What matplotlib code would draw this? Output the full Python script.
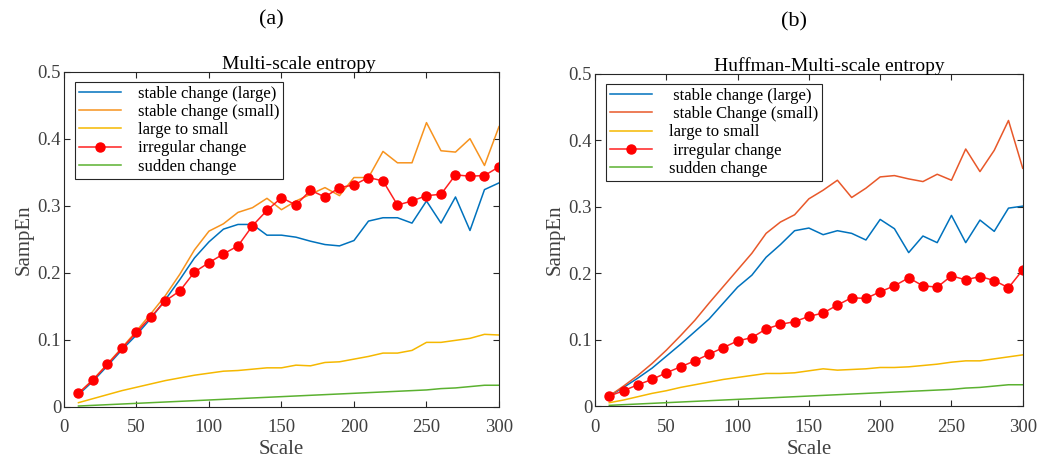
"""
Sample entropy against scale for five change patterns,
plain multi-scale entropy vs. Huffman-multi-scale entropy.
"""

import numpy as np
import matplotlib
matplotlib.use('Agg')
import matplotlib.pyplot as plt

plt.rcParams['font.family'] = ['Liberation Serif', 'DejaVu Serif']
plt.rcParams['mathtext.fontset'] = 'stix'

scale = list(range(10, 301, 10))

# (a) multi-scale entropy
mse_stable_large = [0.018, 0.038, 0.061, 0.085, 0.107, 0.132, 0.160, 0.190, 0.222, 0.246,
                    0.265, 0.272, 0.272, 0.256, 0.256, 0.253, 0.247, 0.242, 0.240, 0.248,
                    0.277, 0.282, 0.282, 0.274, 0.307, 0.274, 0.313, 0.263, 0.324, 0.334]
mse_stable_small = [0.020, 0.040, 0.064, 0.088, 0.113, 0.139, 0.166, 0.198, 0.234, 0.262,
                    0.273, 0.290, 0.297, 0.311, 0.294, 0.307, 0.317, 0.327, 0.315, 0.342,
                    0.342, 0.381, 0.364, 0.364, 0.424, 0.382, 0.380, 0.400, 0.360, 0.418]
mse_large_small = [0.006, 0.012, 0.018, 0.024, 0.029, 0.034, 0.039, 0.043, 0.047, 0.050,
                   0.053, 0.054, 0.056, 0.058, 0.058, 0.062, 0.061, 0.066, 0.067, 0.071,
                   0.075, 0.080, 0.080, 0.084, 0.096, 0.096, 0.099, 0.102, 0.108, 0.107]
mse_irregular = [0.020, 0.040, 0.063, 0.087, 0.111, 0.134, 0.158, 0.173, 0.201, 0.215,
                 0.228, 0.240, 0.270, 0.293, 0.312, 0.301, 0.323, 0.313, 0.327, 0.331,
                 0.342, 0.337, 0.301, 0.307, 0.315, 0.317, 0.346, 0.344, 0.345, 0.358]
mse_sudden = [0.001, 0.002, 0.003, 0.004, 0.005, 0.006, 0.007, 0.008, 0.009, 0.010,
              0.011, 0.012, 0.013, 0.014, 0.015, 0.016, 0.017, 0.018, 0.019, 0.020,
              0.021, 0.022, 0.023, 0.024, 0.025, 0.027, 0.028, 0.030, 0.032, 0.032]

# (b) Huffman-multi-scale entropy
hmse_stable_large = [0.015, 0.028, 0.042, 0.057, 0.075, 0.093, 0.112, 0.131, 0.155, 0.179,
                     0.197, 0.224, 0.243, 0.264, 0.268, 0.258, 0.264, 0.260, 0.250, 0.281,
                     0.267, 0.231, 0.256, 0.246, 0.287, 0.246, 0.280, 0.263, 0.298, 0.301]
hmse_stable_small = [0.015, 0.030, 0.046, 0.064, 0.084, 0.106, 0.129, 0.155, 0.180, 0.205,
                     0.230, 0.260, 0.277, 0.288, 0.312, 0.325, 0.340, 0.314, 0.328, 0.345,
                     0.347, 0.342, 0.338, 0.349, 0.340, 0.387, 0.353, 0.385, 0.430, 0.358]
hmse_large_small = [0.005, 0.009, 0.014, 0.019, 0.023, 0.028, 0.032, 0.036, 0.040, 0.043,
                    0.046, 0.049, 0.049, 0.050, 0.053, 0.056, 0.054, 0.055, 0.056, 0.058,
                    0.058, 0.059, 0.061, 0.063, 0.066, 0.068, 0.068, 0.071, 0.074, 0.077]
hmse_irregular = [0.015, 0.023, 0.032, 0.040, 0.050, 0.059, 0.068, 0.078, 0.088, 0.098,
                  0.103, 0.116, 0.123, 0.127, 0.135, 0.140, 0.152, 0.163, 0.162, 0.172,
                  0.181, 0.193, 0.181, 0.179, 0.196, 0.190, 0.195, 0.189, 0.178, 0.205]
hmse_sudden = [0.001, 0.002, 0.003, 0.004, 0.005, 0.006, 0.007, 0.008, 0.009, 0.010,
               0.011, 0.012, 0.013, 0.014, 0.015, 0.016, 0.017, 0.018, 0.019, 0.020,
               0.021, 0.022, 0.023, 0.024, 0.025, 0.027, 0.028, 0.030, 0.032, 0.032]

LW = 1.1
TEXT_GREY = '#404040'


def draw_panel(ax, series, labels, colors, title, title_x):
    for i, (y, lab, col) in enumerate(zip(series, labels, colors)):
        if i == 3:
            ax.plot(scale, y, color=col, lw=LW, marker='o', markersize=6.5,
                    markerfacecolor='#ff0000', markeredgecolor='#ff0000', label=lab)
        else:
            ax.plot(scale, y, color=col, lw=LW, label=lab)

    ax.set_xlim(0, 300)
    ax.set_ylim(0, 0.5)
    ax.set_xticks(np.arange(0, 301, 50))
    ax.set_yticks(np.arange(0, 0.51, 0.1))
    ax.set_yticklabels(['0', '0.1', '0.2', '0.3', '0.4', '0.5'])
    ax.tick_params(direction='in', top=True, right=True, labelsize=13.5,
                   length=4, width=0.8, colors='#262626', labelcolor=TEXT_GREY)
    ax.tick_params(axis='x', pad=9)
    ax.tick_params(axis='y', pad=2)
    for sp in ax.spines.values():
        sp.set_linewidth(0.8)
        sp.set_color('#262626')
    ax.set_xlabel('Scale', fontsize=15, color=TEXT_GREY, labelpad=3)
    ax.set_ylabel('SampEn', fontsize=15, color=TEXT_GREY, labelpad=3)
    ax.set_title(title, fontsize=14, pad=2, x=title_x)

    leg = ax.legend(loc='upper left', bbox_to_anchor=(0.026, 0.97), fontsize=12,
                    fancybox=False, framealpha=1, edgecolor='#262626',
                    handlelength=2.5, handletextpad=1.0, labelspacing=0.13,
                    borderpad=0.25, borderaxespad=0)
    leg.get_frame().set_linewidth(0.8)
    return leg


fig = plt.figure(figsize=(10.45, 4.61), dpi=100)
ax_a = fig.add_axes([0.0612, 0.1178, 0.4163, 0.7267])
ax_b = fig.add_axes([0.5694, 0.1193, 0.4093, 0.7202])

draw_panel(ax_a,
           [mse_stable_large, mse_stable_small, mse_large_small, mse_irregular, mse_sudden],
           ['stable change (large)', 'stable change (small)', 'large to small',
            'irregular change', 'sudden change'],
           ['#0072BD', '#F7931E', '#F5B800', '#ff2020', '#5BB130'],
           'Multi-scale entropy', 0.54)

draw_panel(ax_b,
           [hmse_stable_large, hmse_stable_small, hmse_large_small, hmse_irregular, hmse_sudden],
           [' stable change (large)', ' stable Change (small)', 'large to small',
            ' irregular change', 'sudden change'],
           ['#0072BD', '#E8582A', '#F5B800', '#ff2020', '#5BB130'],
           'Huffman-Multi-scale entropy', 0.547)

fig.text(0.260, 0.957, '(a)', ha='center', va='center', fontsize=16)
fig.text(0.760, 0.953, '(b)', ha='center', va='center', fontsize=16)

fig.savefig('out.png', dpi=100)
